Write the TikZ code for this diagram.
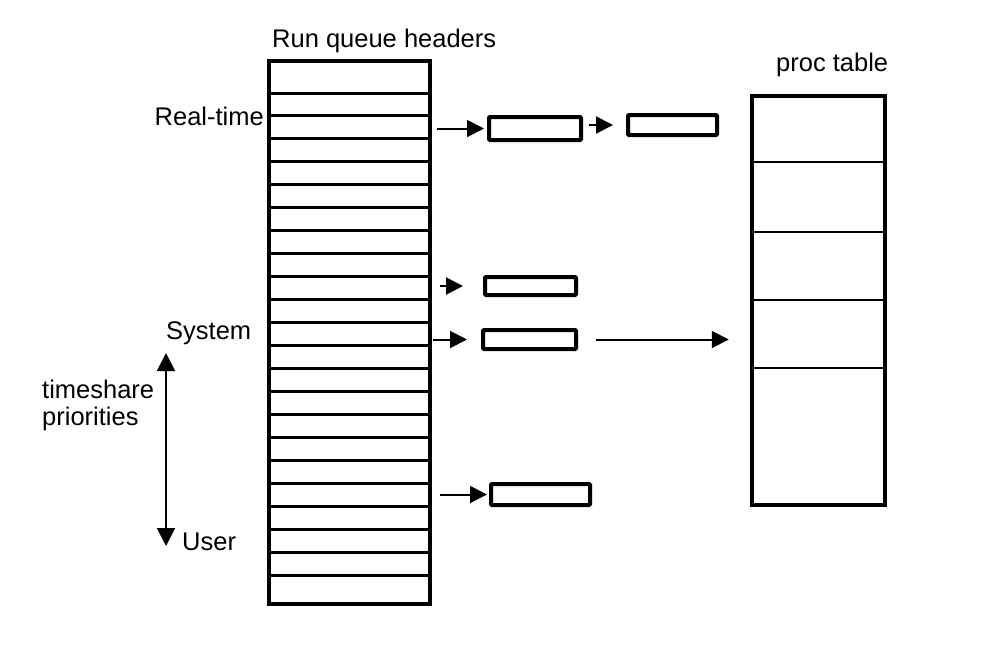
\documentclass[tikz,border=0pt]{standalone}
\usepackage{fontspec}
\setmainfont{Liberation Sans}
\usetikzlibrary{arrows.meta}
\begin{document}
\begin{tikzpicture}[x=1pt,y=-1pt,
  lbl/.style={inner sep=0pt, font=\fontsize{25.5}{29}\selectfont},
  column/.style={draw, line width=4.5pt, inner sep=0pt},
  qbox/.style={draw, line width=4pt, inner sep=0pt, rounded corners=1pt},
  rowline/.style={line width=3pt},
  procline/.style={line width=2.5pt},
  arr/.style={line width=2pt, -{Triangle[length=17pt,width=17pt]}},
  dbl/.style={line width=2pt, {Triangle[length=18pt,width=18pt]}-{Triangle[length=18pt,width=18pt]}}
]
\useasboundingbox[fill=white] (0,0) rectangle (983,670);

% run queue column
\node[column, minimum width=161pt, minimum height=543pt] (rq) at (349.5,332.5) {};
\foreach \i in {0,...,21}{
  \pgfmathsetmacro{\yy}{93+\i*22.952}
  \draw[rowline] (rq.west |- 0,\yy) -- (rq.east |- 0,\yy);
}

% proc table
\node[column, minimum width=133pt, minimum height=409pt] (pt) at (818.5,300.5) {};
\foreach \yy in {162,232,300,368}{
  \draw[procline] (pt.west |- 0,\yy) -- (pt.east |- 0,\yy);
}

% labels
\node[lbl, anchor=base west] (hdr) at (272,47) {Run queue headers};
\node[lbl, anchor=base west] (ptl) at (776,71) {proc table};
\node[lbl, anchor=base east] (rt) at (264,125) {Real-time};
\node[lbl, anchor=base west] (sys) at (166,339) {System};
\node[lbl, anchor=base west] (usr) at (182,550) {User};
\node[lbl, anchor=base west] (ts1) at (42,398) {timeshare};
\node[lbl, anchor=base west] (ts2) at (42,425) {priorities};

% priority arrow
\coordinate (up) at (166,353);
\coordinate (dn) at (166,546);
\draw[dbl] (up) -- (dn);

% queue boxes
\node[qbox, minimum width=92pt, minimum height=23pt] (b1) at (535,128.5) {};
\node[qbox, minimum width=89pt, minimum height=20pt] (b2) at (672.5,125) {};
\node[qbox, minimum width=91pt, minimum height=18pt] (b3) at (530.5,286) {};
\node[qbox, minimum width=93pt, minimum height=19pt] (b4) at (529.5,339.5) {};
\node[qbox, minimum width=99pt, minimum height=21pt] (b6) at (540.5,494.5) {};

% arrows
\coordinate (s1) at (437,128.5);
\coordinate (s3) at (440,286);
\coordinate (s4) at (433,339.5);
\coordinate (s6) at (440,494.5);
\draw[arr, shorten >=3pt] (s1) -- (b1.west);
\draw[arr, shorten <=6pt, shorten >=13pt] (b1.east |- b2.west) -- (b2.west);
\draw[arr, shorten >=20pt] (s3) -- (b3.west);
\draw[arr, shorten >=14pt] (s4) -- (b4.west);
\draw[arr, shorten >=2pt] (s6) -- (b6.west);
\draw[arr, shorten <=18pt, shorten >=21pt] (b4.east) -- (pt.west |- b4.east);
\end{tikzpicture}
\end{document}
